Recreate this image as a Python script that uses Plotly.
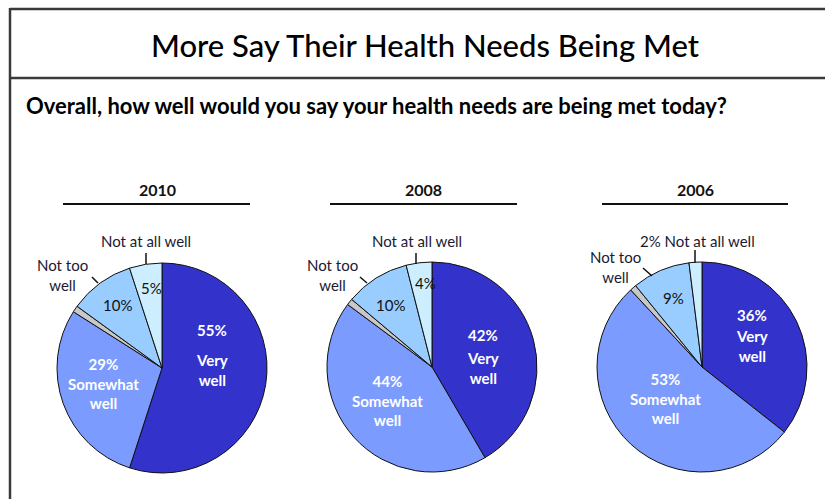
import plotly.graph_objects as go

W, H = 825, 499

# ---- data ----
years = ["2010", "2008", "2006"]
categories = ["Very well", "Somewhat well", "Don't know", "Not too well", "Not at all well"]
values_2010 = [55, 29, 1, 10, 5]
values_2008 = [42, 44, 1, 10, 4]
values_2006 = [36, 53, 1, 9, 2]
series = [values_2010, values_2008, values_2006]
colors = ["#3333cc", "#7b9bff", "#c8c8c8", "#99ccff", "#cceeff"]

title_text = "More Say Their Health Needs Being Met"
subtitle_text = "Overall, how well would you say your health needs are being met today?"

FONT = "Lato"


def px(x):
    return x / W


def py(y):
    return 1 - y / H


fig = go.Figure()

# pie layout (pixel centers and radius)
centers = [(162, 368), (432, 367), (702, 367)]
R = 105

for vals, (cx, cy), yr in zip(series, centers, years):
    fig.add_trace(go.Pie(
        labels=categories,
        values=vals,
        sort=False,
        direction="clockwise",
        rotation=0,
        marker=dict(colors=colors, line=dict(color="#111111", width=1)),
        textinfo="none",
        hoverinfo="label+percent",
        showlegend=False,
        domain=dict(x=[px(cx - R), px(cx + R)], y=[py(cy + R), py(cy - R)]),
        name=yr,
    ))

annotations = []
shapes = []

# frame lines
line_col = "#3a3a3a"
shapes.append(dict(type="line", xref="paper", yref="paper", x0=px(10), x1=px(W + 5), y0=py(9), y1=py(9),
                   line=dict(color=line_col, width=2.5)))
shapes.append(dict(type="line", xref="paper", yref="paper", x0=px(10), x1=px(W + 5), y0=py(78), y1=py(78),
                   line=dict(color=line_col, width=2.5)))
shapes.append(dict(type="line", xref="paper", yref="paper", x0=px(10), x1=px(10), y0=py(8), y1=py(H + 5),
                   line=dict(color=line_col, width=2.5)))

annotations.append(dict(text=title_text, xref="paper", yref="paper", x=px(425), y=py(45),
                        xanchor="center", yanchor="middle", showarrow=False,
                        font=dict(family=FONT, size=31, color="#000000", weight=500)))
annotations.append(dict(text="<b>" + subtitle_text + "</b>", xref="paper", yref="paper", x=px(24), y=py(105),
                        xanchor="left", yanchor="middle", showarrow=False,
                        font=dict(family=FONT, size=22, color="#000000")))

# year headings and underlines
year_centers = [157, 423, 695]
line_spans = [(63, 250), (330, 517), (602, 788)]
for yr, xc, (a, b) in zip(years, year_centers, line_spans):
    annotations.append(dict(text="<b>" + yr + "</b>", xref="paper", yref="paper", x=px(xc), y=py(190),
                            xanchor="center", yanchor="middle", showarrow=False,
                            font=dict(family=FONT, size=16, color="#111111")))
    shapes.append(dict(type="line", xref="paper", yref="paper", x0=px(a), x1=px(b), y0=py(204), y1=py(204),
                       line=dict(color="#111111", width=2)))

# slice labels (positions in pixels)
label_pos = [
    dict(very_pct=(212, 330), very=(212, 370), some=(103, 383), ntw=(117, 305), nal=(151, 288),
         nal_out=(146, 241), nal_lead=((146, 253), (146, 264)),
         ntw_out=(62, 275), ntw_lead=((92, 277), (98, 283)), nal_in=True),
    dict(very_pct=(483, 335), very=(483, 368), some=(387, 400), ntw=(390, 305), nal=(425, 283),
         nal_out=(417, 241), nal_lead=((416, 253), (416, 264)),
         ntw_out=(332, 275), ntw_lead=((360, 277), (367, 283)), nal_in=True),
    dict(very_pct=(752, 315), very=(752, 346), some=(665, 398), ntw=(673, 298), nal=None,
         nal_out=(697, 241), nal_lead=((695, 250), (695, 263)),
         ntw_out=(615, 267), ntw_lead=((643, 268), (652, 276)), nal_in=False),
]

small = 15
for vals, lp in zip(series, label_pos):
    v_very, v_some, v_dk, v_ntw, v_nal = vals
    annotations.append(dict(text=f"<b>{v_very}%</b>", xref="paper", yref="paper",
                            x=px(lp["very_pct"][0]), y=py(lp["very_pct"][1]), xanchor="center", yanchor="middle",
                            showarrow=False, font=dict(family=FONT, size=small, color="white")))
    annotations.append(dict(text="<b>Very<br>well</b>", xref="paper", yref="paper",
                            x=px(lp["very"][0]), y=py(lp["very"][1]), xanchor="center", yanchor="middle",
                            showarrow=False, font=dict(family=FONT, size=small, color="white")))
    annotations.append(dict(text=f"<b>{v_some}%<br>Somewhat<br>well</b>", xref="paper", yref="paper",
                            x=px(lp["some"][0]), y=py(lp["some"][1]), xanchor="center", yanchor="middle",
                            showarrow=False, font=dict(family=FONT, size=small, color="white")))
    annotations.append(dict(text=f"{v_ntw}%", xref="paper", yref="paper",
                            x=px(lp["ntw"][0]), y=py(lp["ntw"][1]), xanchor="center", yanchor="middle",
                            showarrow=False, font=dict(family=FONT, size=small, color="#111111")))
    if lp["nal_in"]:
        annotations.append(dict(text=f"{v_nal}%", xref="paper", yref="paper",
                                x=px(lp["nal"][0]), y=py(lp["nal"][1]), xanchor="center", yanchor="middle",
                                showarrow=False, font=dict(family=FONT, size=small, color="#111111")))
        out_text = categories[4]
    else:
        out_text = f"{v_nal}% {categories[4]}"
    annotations.append(dict(text=out_text, xref="paper", yref="paper",
                            x=px(lp["nal_out"][0]), y=py(lp["nal_out"][1]), xanchor="center", yanchor="middle",
                            showarrow=False, font=dict(family=FONT, size=small, color="#1a1a33")))
    annotations.append(dict(text="Not too<br>well", xref="paper", yref="paper",
                            x=px(lp["ntw_out"][0]), y=py(lp["ntw_out"][1]), xanchor="center", yanchor="middle",
                            showarrow=False, font=dict(family=FONT, size=small, color="#1a1a33")))
    for (p0, p1) in [lp["nal_lead"], lp["ntw_lead"]]:
        shapes.append(dict(type="line", xref="paper", yref="paper", x0=px(p0[0]), y0=py(p0[1]),
                           x1=px(p1[0]), y1=py(p1[1]), line=dict(color="#111111", width=1.5)))

fig.update_layout(
    width=W, height=H,
    margin=dict(l=0, r=0, t=0, b=0),
    paper_bgcolor="white",
    plot_bgcolor="white",
    annotations=annotations,
    shapes=shapes,
)

fig.write_html("out.html")
